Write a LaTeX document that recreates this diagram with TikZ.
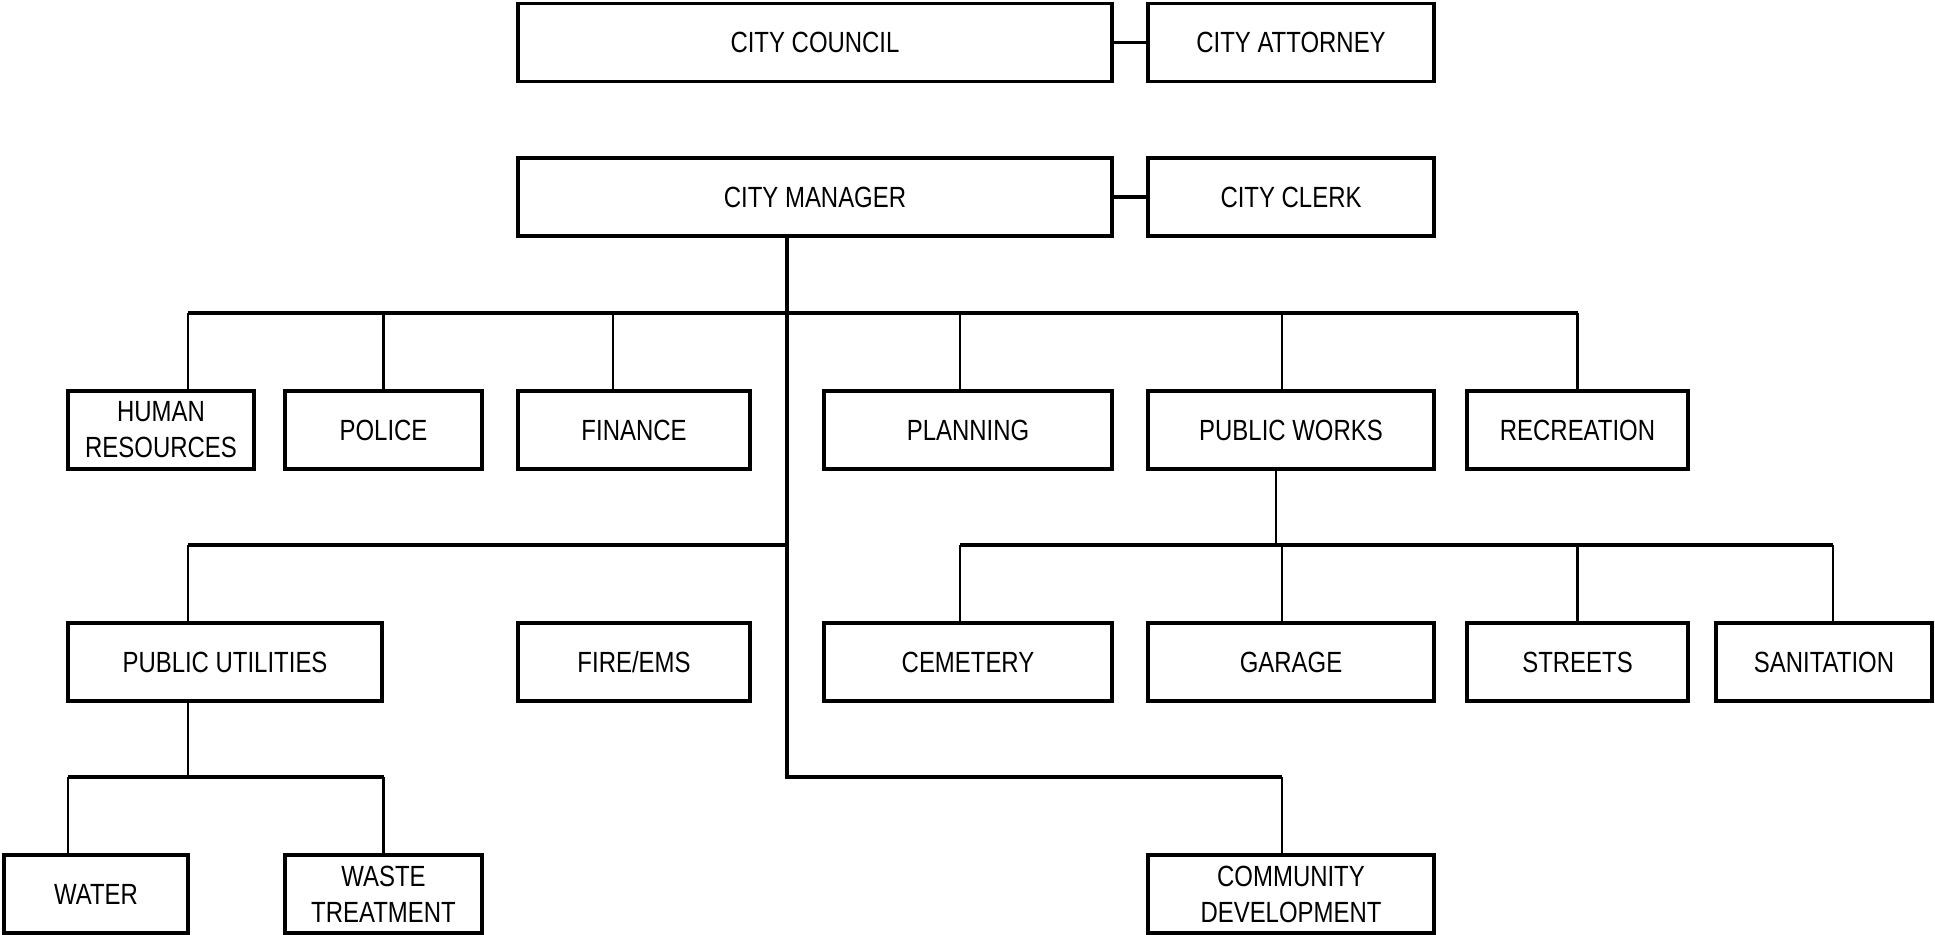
\documentclass[tikz,border=0pt]{standalone}
\usepackage{fontspec}
\setmainfont{Liberation Sans}[FakeStretch=0.82]
\usepackage{tikz}
\usetikzlibrary{calc}

\begin{document}
\begin{tikzpicture}[x=0.25pt,y=-0.25pt,
  unit/.style={draw,line width=0.8pt,minimum height=19.5pt,inner sep=0pt,align=center,
    font=\fontsize{7.3}{9}\selectfont},
  link/.style={line width=0.55pt},
  bus/.style={line width=0.8pt}]
\useasboundingbox (0,0) rectangle (1935,934);
\node[unit,minimum width=148.5pt] (council) at (815,42.5) {CITY COUNCIL};
\node[unit,minimum width=71.5pt] (attorney) at (1291,42.5) {CITY ATTORNEY};
\node[unit,minimum width=148.5pt] (manager) at (815,197) {CITY MANAGER};
\node[unit,minimum width=71.5pt] (clerk) at (1291,197) {CITY CLERK};
\node[unit,minimum width=46.5pt] (hr) at (161,430) {HUMAN\\RESOURCES};
\node[unit,minimum width=49.25pt] (police) at (383.5,430) {POLICE};
\node[unit,minimum width=58pt] (finance) at (634,430) {FINANCE};
\node[unit,minimum width=72pt] (planning) at (968,430) {PLANNING};
\node[unit,minimum width=71.5pt] (works) at (1291,430) {PUBLIC WORKS};
\node[unit,minimum width=55.25pt] (recreation) at (1577.5,430) {RECREATION};
\node[unit,minimum width=78.5pt] (utilities) at (225,662) {PUBLIC UTILITIES};
\node[unit,minimum width=58pt] (fire) at (634,662) {FIRE/EMS};
\node[unit,minimum width=72pt] (cemetery) at (968,662) {CEMETERY};
\node[unit,minimum width=71.5pt] (garage) at (1291,662) {GARAGE};
\node[unit,minimum width=55.25pt] (streets) at (1577.5,662) {STREETS};
\node[unit,minimum width=54pt] (sanitation) at (1824,662) {SANITATION};
\node[unit,minimum width=46pt] (water) at (96,894) {WATER};
\node[unit,minimum width=49.25pt] (waste) at (383.5,894) {WASTE\\TREATMENT};
\node[unit,minimum width=71.5pt] (commdev) at (1291,894) {COMMUNITY\\DEVELOPMENT};
\coordinate (lvA) at (0,313);
\coordinate (lvB) at (0,545);
\coordinate (lvC) at (0,777);
\coordinate (trunk) at ([xshift=-7pt]manager.south);
\draw[bus] (council) -- (attorney);
\draw[bus] (manager) -- (clerk);
% trunk from the manager down to community development
\draw[bus] (trunk) -- (trunk |- lvC) -- ([xshift=-2.25pt]commdev.north |- lvC);
\draw[link] ([xshift=-2.25pt]commdev.north) -- ([xshift=-2.25pt]commdev.north |- lvC);
% first row
\draw[bus] ([xshift=6.75pt]hr.north |- lvA) -- (recreation.north |- lvA);
\draw[link] ([xshift=6.75pt]hr.north) -- ([xshift=6.75pt]hr.north |- lvA);
\draw[link] (police.north) -- (police.north |- lvA);
\draw[link] ([xshift=-5.25pt]finance.north) -- ([xshift=-5.25pt]finance.north |- lvA);
\draw[link] ([xshift=-2pt]planning.north) -- ([xshift=-2pt]planning.north |- lvA);
\draw[link] ([xshift=-2.25pt]works.north) -- ([xshift=-2.25pt]works.north |- lvA);
\draw[link] (recreation.north) -- (recreation.north |- lvA);
% second row
\draw[bus] (trunk |- lvB) -- ([xshift=-9.25pt]utilities.north |- lvB);
\draw[link] ([xshift=-9.25pt]utilities.north) -- ([xshift=-9.25pt]utilities.north |- lvB);
\draw[link] ([xshift=-3.75pt]works.south) -- ([xshift=-3.75pt]works.south |- lvB);
\draw[bus] ([xshift=-2pt]cemetery.north |- lvB) -- ([xshift=2.25pt]sanitation.north |- lvB);
\draw[link] ([xshift=-2pt]cemetery.north) -- ([xshift=-2pt]cemetery.north |- lvB);
\draw[link] ([xshift=-2.25pt]garage.north) -- ([xshift=-2.25pt]garage.north |- lvB);
\draw[link] (streets.north) -- (streets.north |- lvB);
\draw[link] ([xshift=2.25pt]sanitation.north) -- ([xshift=2.25pt]sanitation.north |- lvB);
% third row
\draw[link] ([xshift=-9.25pt]utilities.south) -- ([xshift=-9.25pt]utilities.south |- lvC);
\draw[bus] ([xshift=-7pt]water.north |- lvC) -- (waste.north |- lvC);
\draw[link] ([xshift=-7pt]water.north) -- ([xshift=-7pt]water.north |- lvC);
\draw[link] (waste.north) -- (waste.north |- lvC);
\end{tikzpicture}
\end{document}
